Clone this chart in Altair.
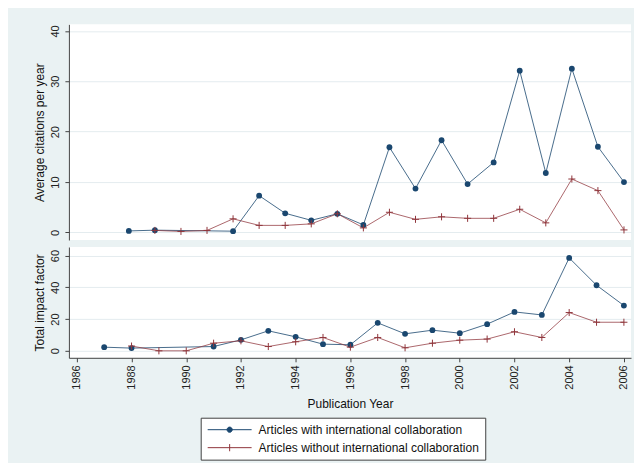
import altair as alt
import pandas as pd

A = "Articles with international collaboration"
B = "Articles without international collaboration"

# Top panel: average citations per year
cit_years_with = [1987, 1988, 1991, 1992, 1993, 1994, 1995, 1996, 1997, 1998,
                  1999, 2000, 2001, 2002, 2003, 2004, 2005, 2006]
cit_with = [0.3, 0.45, 0.25, 7.3, 3.8, 2.4, 3.7, 1.5, 16.9, 8.7,
            18.3, 9.6, 13.9, 32.1, 11.8, 32.5, 17.0, 10.0]
cit_years_without = [1988, 1989, 1990, 1991, 1992, 1993, 1994, 1995, 1996, 1997,
                     1998, 1999, 2000, 2001, 2002, 2003, 2004, 2005, 2006]
cit_without = [0.4, 0.2, 0.4, 2.7, 1.4, 1.4, 1.7, 3.7, 0.9, 4.0,
               2.6, 3.1, 2.8, 2.8, 4.6, 1.9, 10.6, 8.3, 0.5]

# Bottom panel: total impact factor
if_years_with = [1987, 1988, 1991, 1992, 1993, 1994, 1995, 1996, 1997, 1998,
                 1999, 2000, 2001, 2002, 2003, 2004, 2005, 2006]
if_with = [2.3, 1.7, 2.7, 6.9, 12.6, 8.8, 4.2, 3.8, 17.6, 10.7,
           13.0, 11.1, 16.8, 24.5, 22.6, 58.5, 41.3, 28.5]
if_years_without = [1988, 1989, 1990, 1991, 1992, 1993, 1994, 1995, 1996, 1997,
                    1998, 1999, 2000, 2001, 2002, 2003, 2004, 2005, 2006]
if_without = [3.0, 0.0, 0.0, 4.8, 6.3, 2.7, 5.7, 8.4, 2.3, 8.4,
              1.9, 4.8, 6.7, 7.4, 12.0, 8.4, 24.1, 18.0, 18.0]

x_ticks = list(range(1986, 2007, 2))

NAVY = "#1a476f"
MAROON = "#90353b"
BG = "#eaf2f3"
FONT = "Liberation Sans, Arial, sans-serif"
CROSS = "M-1,0H1M0,-1V1"
LEG_A = "M-5.5,0H5.5M-0.65,0A0.65,0.65,0,1,1,0.65,0A0.65,0.65,0,1,1,-0.65,0Z"
LEG_B = "M-5.5,0H5.5M0,-0.9V0.9"
PAD = "\u00a0" * 3


def make_df(yw, vw, yo, vo):
    return pd.concat([
        pd.DataFrame({"year": yw, "value": vw, "series": A}),
        pd.DataFrame({"year": yo, "value": vo, "series": B}),
    ], ignore_index=True)


df_top = make_df(cit_years_with, cit_with, cit_years_without, cit_without)
df_bot = make_df(if_years_with, if_with, if_years_without, if_without)

leg = alt.Legend(
    title=None, orient="none", legendX=132, legendY=171,
    fillColor="white", strokeColor="#404040", padding=6,
    symbolSize=64, symbolOffset=17, labelOffset=23, rowPadding=6,
    labelFontSize=12, labelFont=FONT, labelLimit=400, labelColor="#111",
    labelExpr="datum.label + '" + PAD + "'", symbolStrokeWidth=1,
)


def panel(df, xdom, ydom, yticks, ytitle, h, bottom):
    if bottom:
        xax = alt.Axis(values=x_ticks, format="d", labelAngle=270, grid=False,
                       title="Publication Year", labelPadding=3, titlePadding=9)
    else:
        xax = None
    x = alt.X("year:Q", scale=alt.Scale(domain=xdom, nice=False, zero=False), axis=xax)
    y = alt.Y("value:Q", scale=alt.Scale(domain=ydom, nice=False, zero=False),
              axis=alt.Axis(values=yticks, title=ytitle, labelAngle=270, grid=True,
                            labelPadding=4, titlePadding=3))
    base = alt.Chart(df)
    la = base.transform_filter(alt.datum.series == A).mark_line(
        color=NAVY, strokeWidth=1, opacity=0.8).encode(x=x, y=y)
    lb = base.transform_filter(alt.datum.series == B).mark_line(
        color=MAROON, strokeWidth=1, opacity=0.75).encode(x=x, y=y)
    pa = base.transform_filter(alt.datum.series == A).mark_point(
        shape="circle", filled=True, size=34, color=NAVY, opacity=1).encode(x=x, y=y)
    pb = base.transform_filter(alt.datum.series == B).mark_point(
        shape=CROSS, filled=False, size=50, stroke=MAROON, strokeWidth=1,
        opacity=1).encode(x=x, y=y)
    layers = [la, lb, pa, pb]
    if bottom:
        lg = base.transform_filter("false").mark_point(
            filled=True, strokeWidth=1, opacity=1).encode(
            x=x, y=y,
            stroke=alt.Stroke("series:N", scale=alt.Scale(domain=[A, B], range=[NAVY, MAROON]), legend=leg),
            fill=alt.Fill("series:N", scale=alt.Scale(domain=[A, B], range=[NAVY, MAROON]), legend=leg),
            shape=alt.Shape("series:N", scale=alt.Scale(domain=[A, B], range=[LEG_A, LEG_B]), legend=leg),
        )
        layers.append(lg)
    return alt.layer(*layers).properties(width=563, height=h)


top = panel(df_top, [1984.70, 2006.27], [-1.5, 41.3], [0, 10, 20, 30, 40],
            "Average citations per year", 216, False)
bot = panel(df_bot, [1985.71, 2006.26], [-4.4, 65.4], [0, 20, 40, 60],
            "Total impact factor", 111, True)

chart = alt.vconcat(top, bot, spacing=7).resolve_scale(
    x="independent", stroke="independent", fill="independent", shape="independent"
).properties(
    background=BG,
    padding={"left": 26, "top": 16, "right": 3, "bottom": 2},
).configure_view(fill="white", stroke=None).configure_axis(
    labelFont=FONT, titleFont=FONT, labelFontSize=11, titleFontSize=12,
    titleFontWeight="normal", domainColor="#444", tickColor="#444",
    labelColor="#222", titleColor="#111", gridColor="#e4ecef", tickSize=4,
    domainWidth=1, tickWidth=1,
)

chart.save("out.html", embed_options={"renderer": "svg", "actions": False})
